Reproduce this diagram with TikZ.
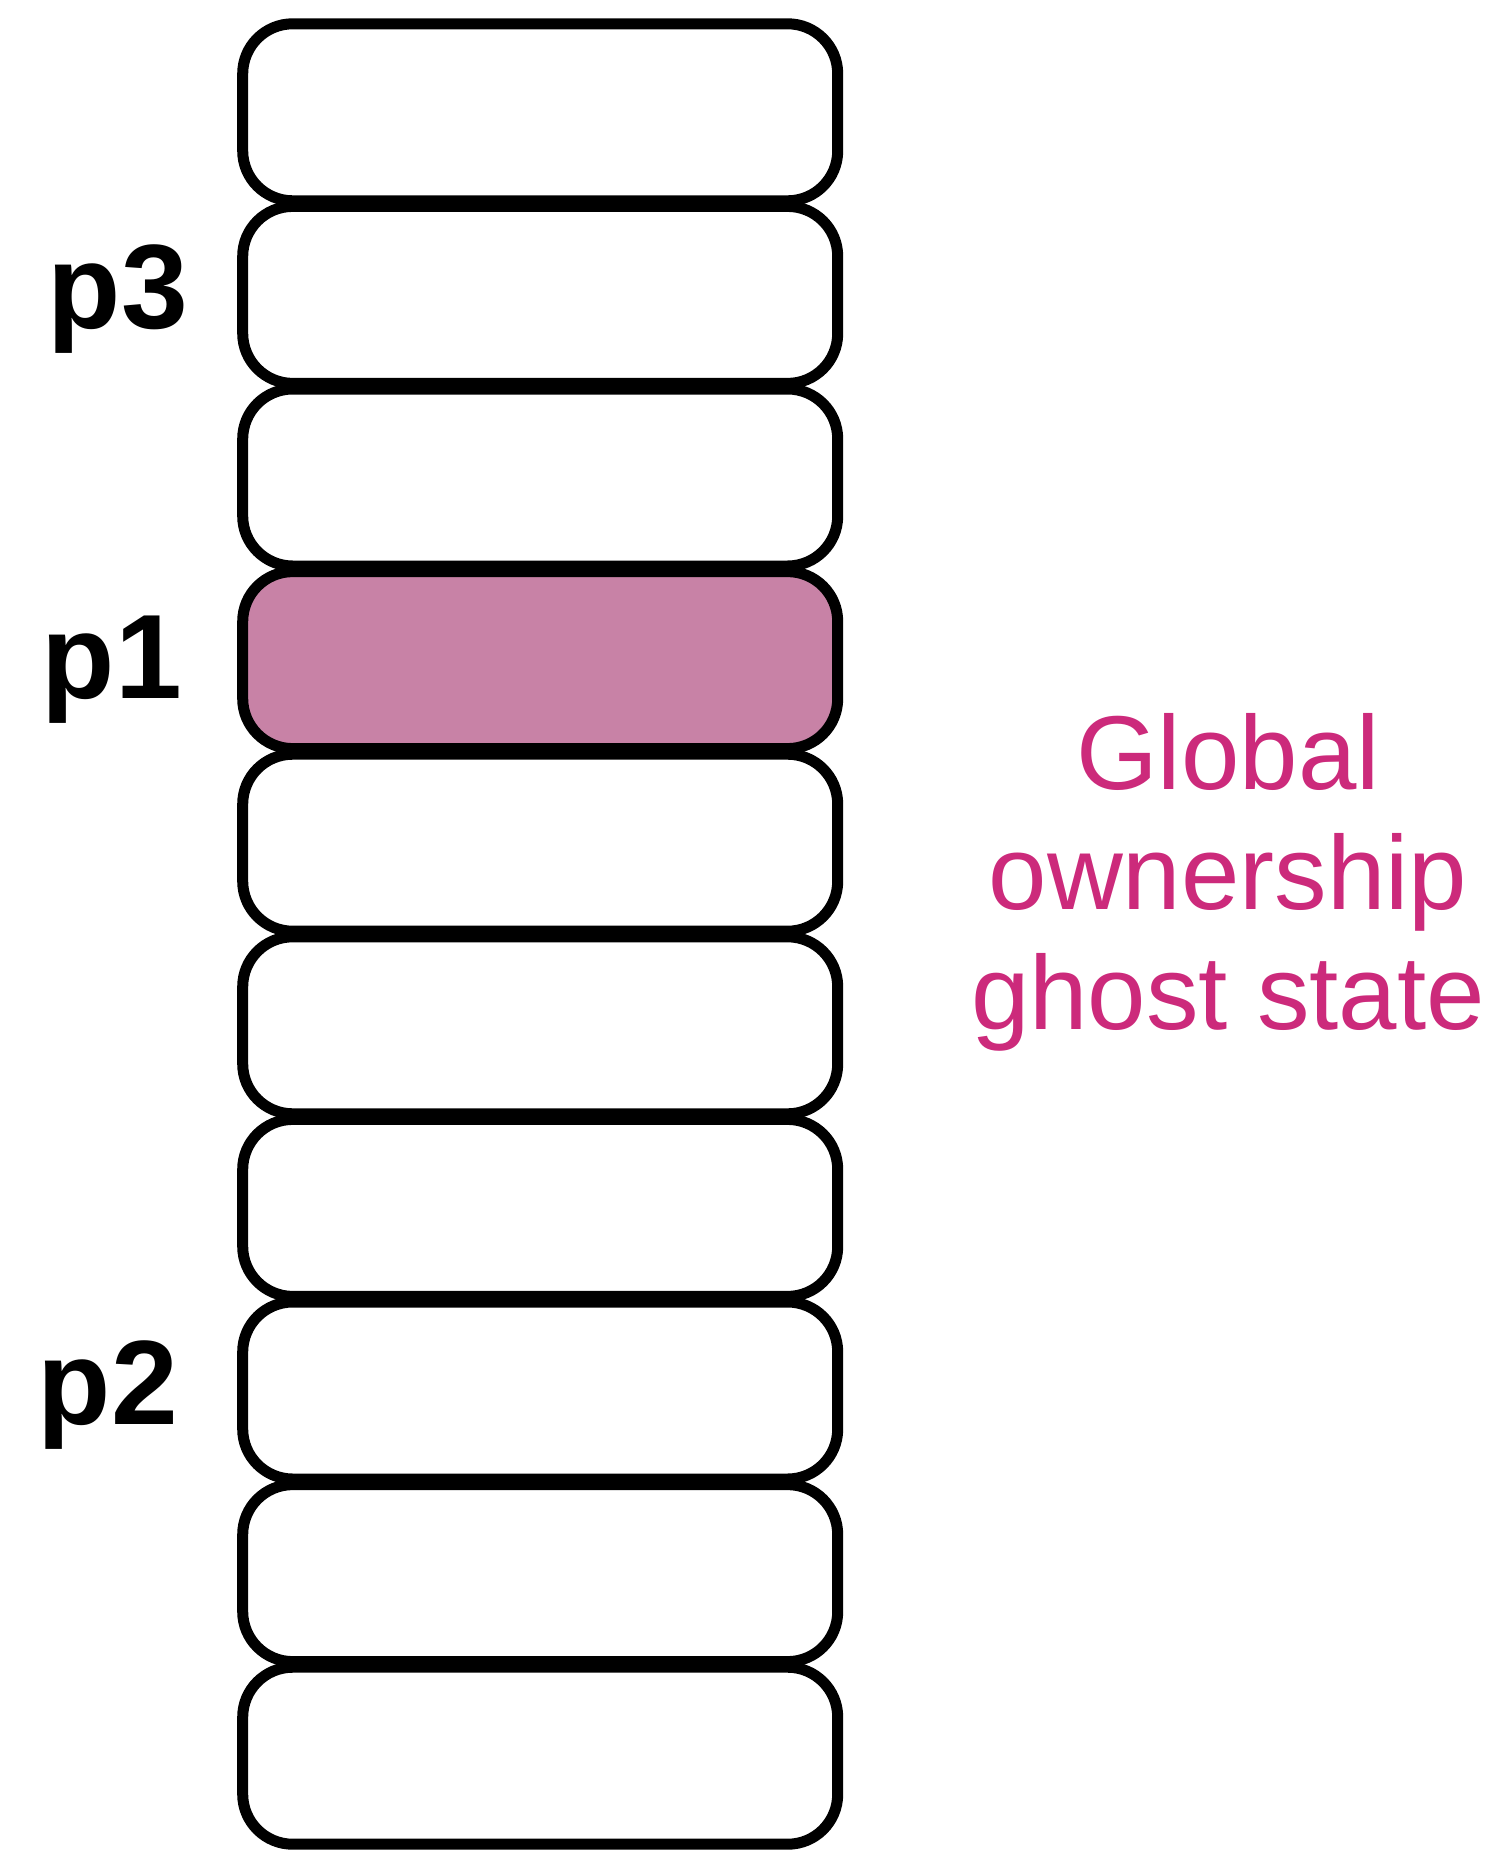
\documentclass[tikz,border=0pt]{standalone}
\usepackage{fontspec}
\setmainfont{Liberation Sans}
\definecolor{slotpink}{HTML}{C882A6}
\definecolor{ghosttext}{HTML}{CC2A7B}
\begin{document}
\begin{tikzpicture}[x=1pt,y=-1pt,
  slot/.style={draw=black,line width=11pt,rounded corners=50pt,rectangle,
    minimum width=595pt,minimum height=177pt,inner sep=0pt,outer sep=0pt,fill=white},
  plabel/.style={font=\fontsize{120}{144}\selectfont\bfseries,anchor=base,inner sep=0pt},
  gtext/.style={font=\fontsize{105}{126}\selectfont,text=ghosttext,anchor=base,inner sep=0pt}]
\useasboundingbox (0,0) rectangle (1512,1858);
\foreach \i in {0,...,9}{
  \ifnum\i=3
    \node[slot,fill=slotpink] (s\i) at (540.2,{112.3+182.6*\i}) {};
  \else
    \node[slot] (s\i) at (540.2,{112.3+182.6*\i}) {};
  \fi
}
\node[plabel] (p3) at (118,328) {p3};
\node[plabel] (p1) at (112,698) {p1};
\node[plabel] (p2) at (108,1424) {p2};
\node[gtext] (g1) at (1228,789) {Global};
\node[gtext] (g2) at (1228,909) {ownership};
\node[gtext] (g3) at (1228,1029) {ghost state};
\end{tikzpicture}
\end{document}
